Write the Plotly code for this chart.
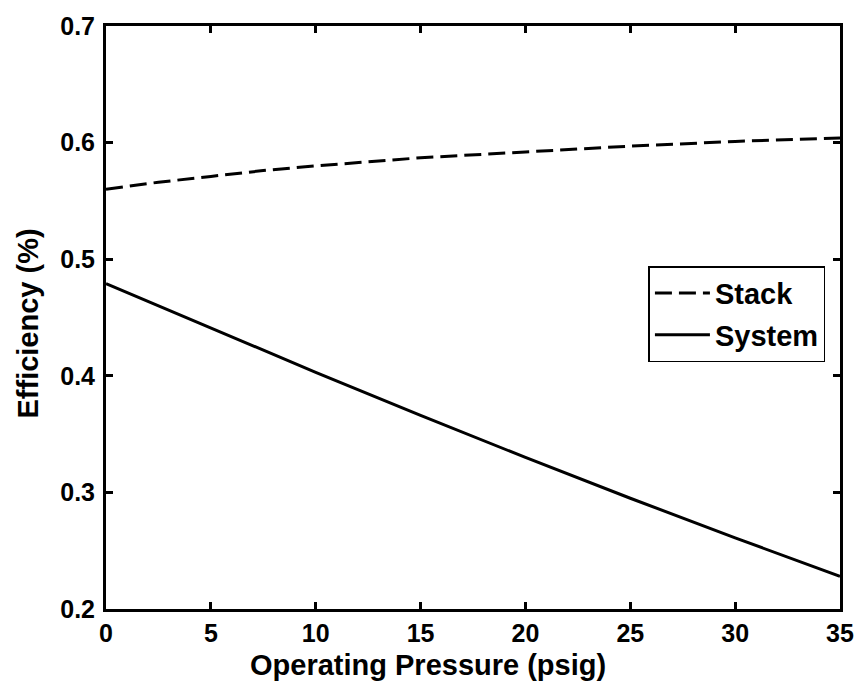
import plotly.graph_objects as go

# Operating pressure (psig)
pressure = [0, 2.5, 5, 7.5, 10, 15, 20, 25, 30, 35]
# Efficiency values (fraction)
stack_eff = [0.560, 0.566, 0.571, 0.576, 0.580, 0.587, 0.592, 0.597, 0.601, 0.604]
system_eff = [0.479, 0.460, 0.441, 0.422, 0.403, 0.366, 0.330, 0.295, 0.261, 0.228]

x_ticks = [0, 5, 10, 15, 20, 25, 30, 35]
y_ticks = [0.2, 0.3, 0.4, 0.5, 0.6, 0.7]

font_family = "Liberation Sans, Arial, sans-serif"
tick_font = dict(family=font_family, size=25, color="black")
title_font = dict(family=font_family, size=29, color="black")

fig = go.Figure()
fig.add_trace(go.Scatter(
    x=pressure, y=stack_eff, mode="lines", name="<b>Stack</b>",
    legendgroup="a", line=dict(color="black", width=3, dash="17px,7px"),
))
fig.add_trace(go.Scatter(
    x=pressure, y=system_eff, mode="lines", name="<b>System</b>",
    legendgroup="b", line=dict(color="black", width=3),
))

axis_common = dict(
    showline=True, linecolor="black", linewidth=3, mirror="ticks",
    ticks="inside", ticklen=7, tickwidth=2.5, tickcolor="black",
    showgrid=False, zeroline=False, tickfont=tick_font,
)

fig.update_xaxes(
    range=[0, 35], tickvals=x_ticks, ticktext=[f"<b>{v}</b>" for v in x_ticks],
    ticklabelstandoff=0,
    **axis_common,
)
fig.update_yaxes(
    range=[0.2, 0.7], tickvals=y_ticks, ticktext=[f"<b>{v:.1f}</b>" for v in y_ticks],
    ticklabelstandoff=3,
    **axis_common,
)

# Axis titles
fig.add_annotation(
    text="<b>Operating Pressure (psig)</b>", xref="paper", yref="paper",
    x=0.439, y=-0.066, xanchor="center", yanchor="top", showarrow=False,
    font=title_font,
)
fig.add_annotation(
    text="<b>Efficiency (%)</b>", xref="paper", yref="paper",
    x=-0.106, y=0.49, xanchor="center", yanchor="middle", showarrow=False,
    textangle=-90, font=title_font,
)

fig.update_layout(
    width=866, height=685,
    margin=dict(l=106, r=22, t=19, b=76),
    paper_bgcolor="white", plot_bgcolor="white",
    font=dict(family=font_family, color="black"),
    showlegend=True,
    legend=dict(
        x=0.739, y=0.588, xanchor="left", yanchor="top",
        bgcolor="white", bordercolor="black", borderwidth=1.5,
        font=dict(family=font_family, size=29, color="black"),
        itemwidth=55,
        traceorder="grouped", tracegroupgap=1,
    ),
)

fig.write_html("out.html")
